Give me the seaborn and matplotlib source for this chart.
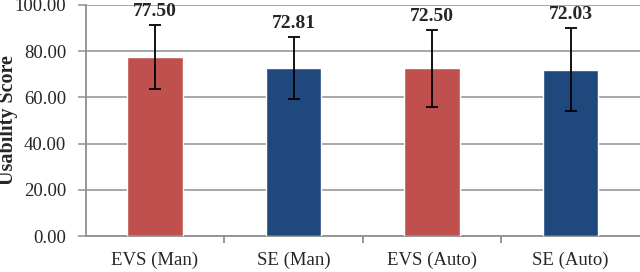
import numpy as np
import pandas as pd
import matplotlib
matplotlib.use('Agg')
import matplotlib.pyplot as plt
import seaborn as sns

# data
conditions = ['EVS (Man)', 'SE (Man)', 'EVS (Auto)', 'SE (Auto)']
scores = [77.50, 72.81, 72.50, 72.03]
sds = [13.9, 13.4, 16.7, 18.0]
bar_colors = ['#C0504D', '#1F497D', '#C0504D', '#1F497D']

sns.set_theme(style='white')
plt.rcParams['font.family'] = ['Liberation Serif', 'DejaVu Serif']

df = pd.DataFrame({'cond': conditions, 'score': scores})

fig = plt.figure(figsize=(6.4, 2.72), dpi=100)
ax = fig.add_axes([0.134, 0.132, 0.866, 0.85])

sns.barplot(data=df, x='cond', y='score', hue='cond', palette=bar_colors,
            width=0.4, legend=False, ax=ax, saturation=1, errorbar=None, zorder=3)
ax.errorbar(np.arange(len(scores)), scores, yerr=sds, fmt='none',
            ecolor='black', elinewidth=1.3, capsize=4, capthick=1.3, zorder=4)

for i, (s, e) in enumerate(zip(scores, sds)):
    ax.text(i, s + e + 2.2, f'{s:.2f}', ha='center', va='bottom',
            fontsize=14, fontweight='bold')

ax.set_ylim(0, 100)
ax.set_xlim(-0.5, 3.5)
ax.set_yticks(np.arange(0, 101, 20))
ax.set_yticklabels([f'{v:.2f}' for v in np.arange(0, 101, 20)], fontsize=13.5)
ax.yaxis.grid(True, color='#a0a0a0', linewidth=1.3, zorder=0)
ax.set_axisbelow(True)

ax.set_xticks(range(4))
ax.set_xticklabels(conditions, fontsize=13.5)
ax.set_xticks([0.5, 1.5, 2.5], minor=True)
ax.tick_params(axis='x', which='major', length=0, pad=11)
ax.tick_params(axis='x', which='minor', length=5, color='#909090', width=1.3,
               direction='out', bottom=True)
ax.tick_params(axis='y', length=6, color='#a0a0a0', width=1.3, pad=8, left=True)

ax.set_xlabel('')
ax.set_ylabel('Usability Score', fontsize=14.5, fontweight='bold')
ax.yaxis.set_label_coords(-0.122, 0.5)

for side in ['top', 'right']:
    ax.spines[side].set_visible(False)
for side in ['left', 'bottom']:
    ax.spines[side].set_color('#909090')
    ax.spines[side].set_linewidth(1.3)

fig.savefig('out.png', dpi=100)
